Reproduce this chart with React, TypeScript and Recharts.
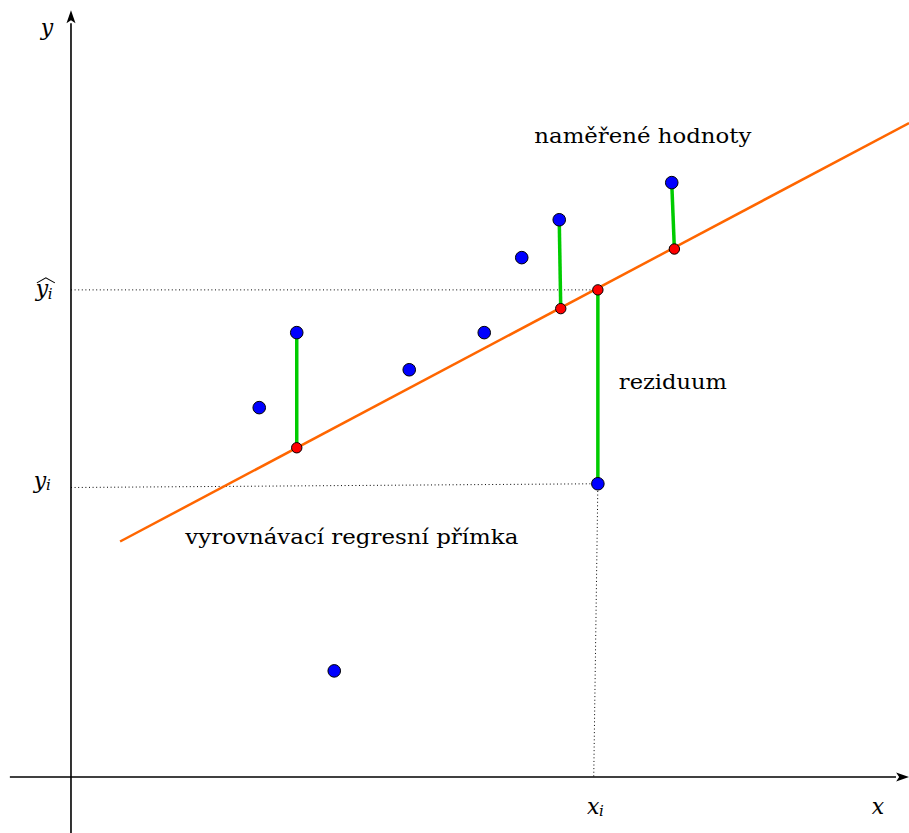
import { ScatterChart, Scatter, XAxis, YAxis } from 'recharts';

// units: one unit on either axis ~ 37.5 px, origin where the axes cross
const measuredX = [5.02, 6.02, 7.02, 9.02, 11.02, 12.02, 13.02, 14.05, 16.02];
const measuredY = [9.85, 11.85, 2.83, 10.86, 11.85, 13.85, 14.86, 7.82, 15.85];

const fittedX = [6.02, 13.06, 14.05, 16.09];
const fittedY = [8.78, 12.49, 12.99, 14.08];
// which measured point belongs to each fitted point
const residualOf = [1, 6, 7, 8];

const regressionX = [1.31, 22.35];
const regressionY = [6.28, 17.44];

const xAxisLine = [{ x: -1.63, y: 0 }, { x: 22.0, y: 0 }];
const yAxisLine = [{ x: 0, y: -1.5 }, { x: 0, y: 20.1 }];
const arrowTips = [
  { x: 22.35, y: 0, dir: 'right' },
  { x: 0, y: 20.45, dir: 'up' },
];

const yHatGuide = [{ x: 0, y: 12.99 }, { x: 14.05, y: 12.99 }];
const yiGuide = [{ x: 0, y: 7.72 }, { x: 14.05, y: 7.82 }];
const xiGuide = [{ x: 14.05, y: 7.82 }, { x: 13.94, y: 0 }];

const textLabels = [
  { x: 15.25, y: 17.09, text: 'naměřené hodnoty', width: 217 },
  { x: 16.05, y: 10.53, text: 'reziduum', width: 108 },
  { x: 7.49, y: 6.4, text: 'vyrovnávací regresní přímka', width: 333 },
];
const mathLabels = [
  { x: -0.64, y: 19.97, text: 'y', sub: '', hat: false },
  { x: -0.67, y: 12.99, text: 'y', sub: 'i', hat: true },
  { x: -0.72, y: 7.89, text: 'y', sub: 'i', hat: false },
  { x: 14.03, y: -0.8, text: 'x', sub: 'i', hat: false },
  { x: 21.52, y: -0.8, text: 'x', sub: '', hat: false },
];

const measured = measuredX.map((x, i) => ({ x, y: measuredY[i] }));
const fitted = fittedX.map((x, i) => ({ x, y: fittedY[i] }));
const regression = regressionX.map((x, i) => ({ x, y: regressionY[i] }));
const residuals = fitted.map((p, i) => [measured[residualOf[i]], p]);

const SERIF = 'DejaVu Serif';

const Nothing = () => <g />;

const Arrow = (props: any) => {
  const { cx, cy, payload } = props;
  if (payload.dir === 'right') {
    return <path d={`M${cx},${cy} L${cx - 13},${cy - 4.5} L${cx - 10},${cy} L${cx - 13},${cy + 4.5} Z`} fill="#000" />;
  }
  return <path d={`M${cx},${cy} L${cx - 4.5},${cy + 13} L${cx},${cy + 10} L${cx + 4.5},${cy + 13} Z`} fill="#000" />;
};

const TextLabel = (props: any) => {
  const { cx, cy, payload } = props;
  return (
    <text
      x={cx}
      y={cy}
      dy="0.35em"
      textAnchor="middle"
      fontFamily={SERIF}
      fontSize={20}
      fill="#000"
      textLength={payload.width}
      lengthAdjust="spacingAndGlyphs"
    >
      {payload.text}
    </text>
  );
};

const MathLabel = (props: any) => {
  const { cx, cy, payload } = props;
  const shift = payload.sub ? -4 : 0;
  return (
    <g>
      <text
        x={cx + shift}
        y={cy}
        dy="0.3em"
        textAnchor="middle"
        fontFamily={SERIF}
        fontStyle="italic"
        fontSize={22}
        fill="#000"
      >
        {payload.text}
      </text>
      {payload.sub && (
        <text x={cx + shift + 6} y={cy + 9} fontFamily={SERIF} fontStyle="italic" fontSize={15} fill="#000">
          {payload.sub}
        </text>
      )}
      {payload.hat && (
        <path
          d={`M${cx - 9},${cy - 7} L${cx},${cy - 12} L${cx + 9},${cy - 7}`}
          fill="none"
          stroke="#000"
          strokeWidth={1.1}
        />
      )}
    </g>
  );
};

export default function App() {
  return (
    <div style={{ position: 'absolute', left: 0, top: 0, background: '#fff' }}>
      <ScatterChart width={909} height={833} margin={{ top: 0, right: 0, bottom: 0, left: 0 }}>
        <XAxis type="number" dataKey="x" domain={[-1.893, 22.347]} hide allowDataOverflow />
        <YAxis type="number" dataKey="y" domain={[-1.493, 20.72]} hide allowDataOverflow />

        <Scatter data={xAxisLine} line={{ stroke: '#000', strokeWidth: 1.6 }} shape={<Nothing />} isAnimationActive={false} />
        <Scatter data={yAxisLine} line={{ stroke: '#000', strokeWidth: 1.6 }} shape={<Nothing />} isAnimationActive={false} />
        <Scatter data={arrowTips} shape={<Arrow />} isAnimationActive={false} />

        {[yHatGuide, yiGuide, xiGuide].map((g, i) => (
          <Scatter
            key={'g' + i}
            data={g}
            line={{ stroke: '#000', strokeWidth: 1, strokeDasharray: '1 2.6' }}
            shape={<Nothing />}
            isAnimationActive={false}
          />
        ))}

        <Scatter data={regression} line={{ stroke: '#ff6600', strokeWidth: 2.5 }} shape={<Nothing />} isAnimationActive={false} />

        {residuals.map((seg, i) => (
          <Scatter
            key={'r' + i}
            data={seg}
            line={{ stroke: '#00cc00', strokeWidth: 3.5 }}
            shape={<Nothing />}
            isAnimationActive={false}
          />
        ))}

        <Scatter
          data={measured}
          shape={(p: any) => <circle cx={p.cx} cy={p.cy} r={6.3} fill="#0000ff" stroke="#000" strokeWidth={1} />}
          isAnimationActive={false}
        />
        <Scatter
          data={fitted}
          shape={(p: any) => <circle cx={p.cx} cy={p.cy} r={5.2} fill="#ff0000" stroke="#000" strokeWidth={1} />}
          isAnimationActive={false}
        />

        <Scatter data={textLabels} shape={<TextLabel />} isAnimationActive={false} />
        <Scatter data={mathLabels} shape={<MathLabel />} isAnimationActive={false} />
      </ScatterChart>
    </div>
  );
}
